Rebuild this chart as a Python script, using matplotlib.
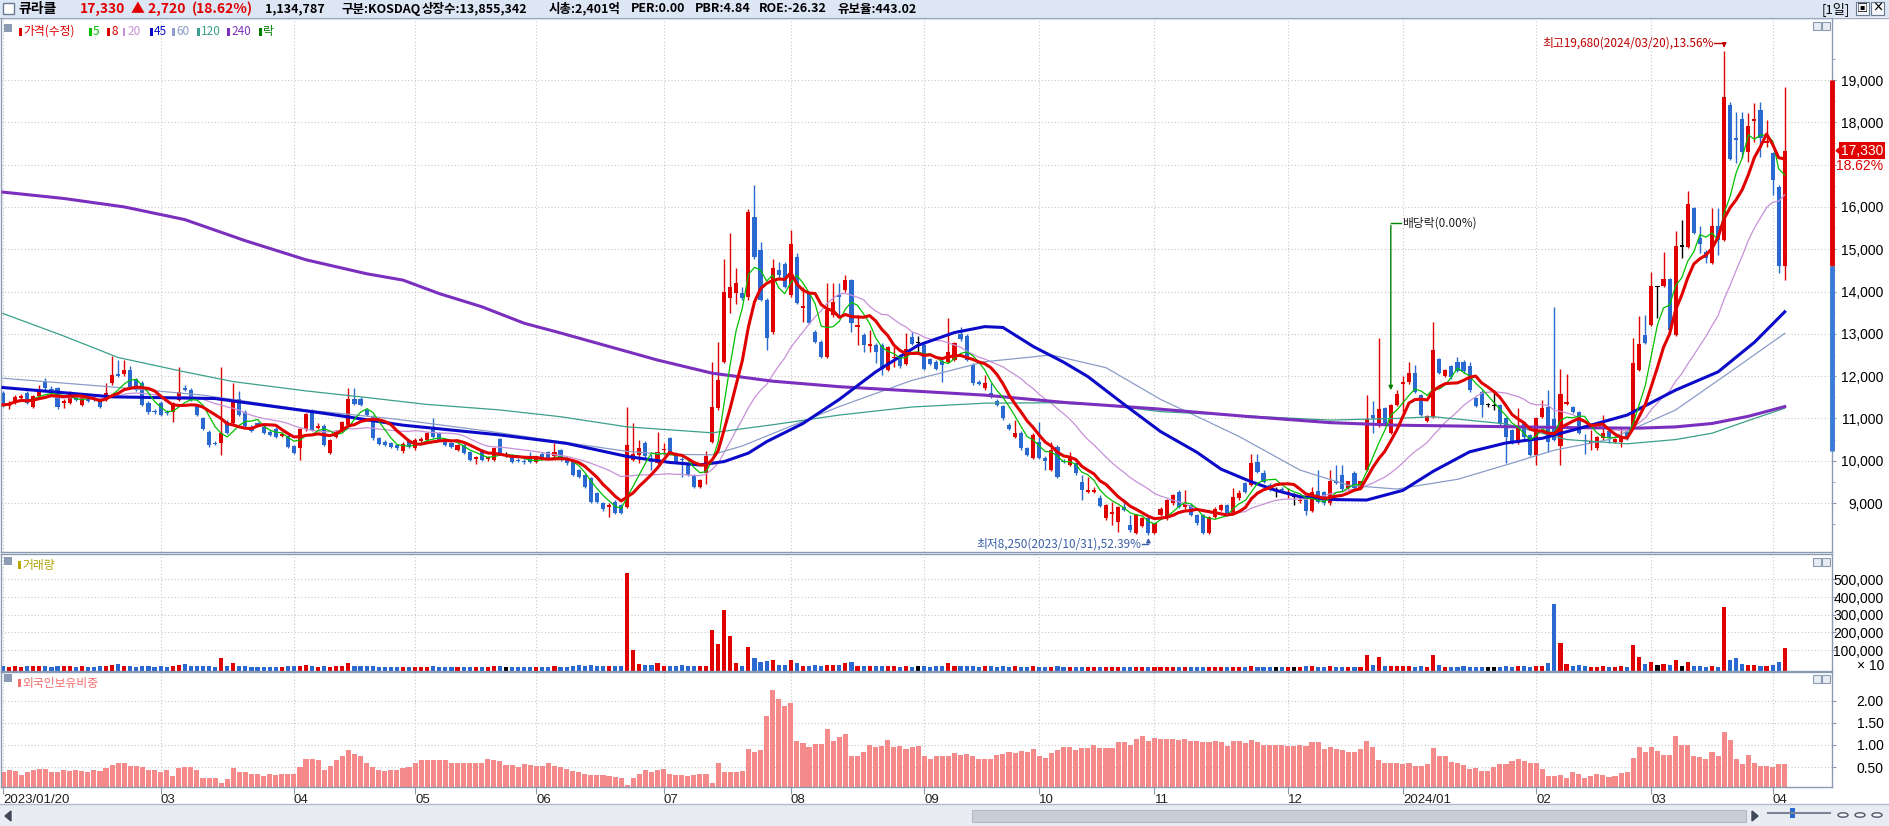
import numpy as np
import pandas as pd
import matplotlib
matplotlib.use("Agg")
import matplotlib.pyplot as plt
from matplotlib.patches import Rectangle, Polygon, Circle
from matplotlib.lines import Line2D
from matplotlib.transforms import blended_transform_factory

plt.rcParams['font.family'] = ['Noto Sans CJK KR', 'DejaVu Sans']
NARROW = ['Liberation Sans Narrow', 'Liberation Sans', 'DejaVu Sans']

# ---------------- data ----------------
stock_name = "큐라클"
header_items = [("1,134,787", 265), ("구분:KOSDAQ", 342), ("상장수:13,855,342", 422),
                ("시총:2,401억", 549), ("PER:0.00", 631), ("PBR:4.84", 695),
                ("ROE:-26.32", 759), ("유보율:443.02", 838)]
high_date = "2024/03/20"
low_date = "2023/10/31"

month_pos = [0, 26, 48, 68, 88, 109, 130, 152, 171, 190, 212, 231, 253, 272, 292]
month_labels = ["2023/01/20", "03", "04", "05", "06", "07", "08", "09", "10", "11", "12",
                "2024/01", "02", "03", "04"]

opens = [
    11590, 11290, 11360, 11480, 11590, 11280, 11530, 11870, 11700, 11710,
    11370, 11370, 11550, 11320, 11450, 11480, 11430, 11430, 11840, 12050,
    12040, 12140, 11920, 11840, 11360, 11180, 11360, 11160, 11160, 11430,
    11710, 11670, 11320, 11000, 10690, 10430, 10420, 10920, 10880, 11450,
    11160, 10800, 10880, 10800, 10690, 10760, 10590, 10580, 10350, 10290,
    10740, 11180, 10780, 10820, 10180, 10570, 10700, 10850, 11470, 11450,
    11200, 11040, 10530, 10450, 10410, 10370, 10220, 10490, 10290, 10470,
    10490, 10800, 10650, 10490, 10410, 10250, 10370, 10210, 10040, 10250,
    10040, 10020, 10510, 10140, 10140, 10020, 10000, 10060, 9980, 10170,
    10210, 10110, 10250, 10060, 9980, 9780, 9660, 9580, 9230, 8990,
    8900, 9030, 8950, 8910, 10020, 10140, 10430, 10000, 9950, 10250,
    10530, 10170, 10040, 9940, 9660, 9390, 9720, 10450, 11240, 12340,
    13840, 13960, 13970, 13880, 15750, 14980, 13800, 13050, 14520, 14650,
    13920, 14820, 13600, 13960, 13050, 12810, 12460, 13450, 13920, 14030,
    14270, 13170, 12970, 12720, 12740, 12740, 12150, 12430, 12460, 12290,
    12920, 12780, 12740, 12400, 12340, 12360, 12340, 12380, 13000, 12950,
    12260, 11850, 11710, 11600, 11420, 11290, 10840, 10570, 10660, 10290,
    10060, 10450, 10060, 9780, 10330, 9990, 9900, 9940, 9500, 9270,
    9270, 9110, 8640, 8740, 8560, 8910, 8480, 8280, 8460, 8640,
    8280, 8720, 8640, 8990, 9270, 8900, 8950, 8720, 8720, 8290,
    8680, 8840, 8950, 8760, 9110, 9470, 9430, 9980, 9700, 9430,
    9310, 9330, 9210, 9150, 9050, 9090, 8820, 9290, 9250, 8990,
    9510, 9660, 9350, 9720, 9350, 9780, 11080, 10820, 11240, 10650,
    11320, 11810, 11850, 12070, 11550, 10950, 11040, 12400, 12000, 12240,
    12340, 12340, 12240, 11480, 11630, 11320, 11290, 11320, 11000, 10730,
    10430, 10880, 10610, 10140, 11040, 11260, 10980, 10350, 11350, 11260,
    11140, 10500, 10430, 10290, 10530, 10710, 10450, 10450, 10690, 10770,
    12140, 12970, 13210, 14100, 14130, 14290, 12970, 15060, 15060, 15970,
    15260, 14940, 14670, 15550, 15220, 18410, 17640, 18070, 17310, 18040,
    18290, 17500, 17270, 16480, 14600,
]
highs = [
    11650, 11400, 11560, 11580, 11640, 11560, 11800, 11950, 11760, 11750,
    11450, 11640, 11600, 11540, 11500, 11520, 11460, 11830, 12480, 12380,
    12380, 12230, 11960, 11880, 11400, 11220, 11400, 11200, 11390, 12220,
    11800, 11710, 11350, 11030, 10720, 10470, 12220, 10960, 11830, 11650,
    11200, 10840, 10920, 10840, 10720, 10800, 10680, 10610, 10380, 10770,
    11130, 11220, 10900, 10860, 10510, 10720, 10950, 11710, 11710, 11500,
    11240, 11080, 10560, 10480, 10440, 10400, 10440, 10520, 10530, 10560,
    10680, 11000, 10680, 10520, 10440, 10400, 10400, 10240, 10110, 10280,
    10110, 10320, 10540, 10200, 10170, 10060, 10040, 10200, 10120, 10200,
    10240, 10410, 10280, 10090, 10010, 9810, 9690, 9610, 9260, 9020,
    8990, 9060, 8980, 11280, 10880, 10490, 10460, 10170, 10690, 10420,
    10560, 10200, 10080, 9970, 9690, 9560, 10220, 12340, 12810, 14780,
    15380, 14550, 14100, 15950, 16520, 15180, 13850, 14780, 14700, 14700,
    15460, 14900, 14110, 14000, 13100, 12850, 14190, 14190, 14190, 14400,
    14300, 13450, 13010, 13090, 12790, 12780, 12720, 12700, 12500, 13010,
    13050, 12950, 12780, 12440, 12380, 12400, 13370, 12810, 13170, 13000,
    12300, 11900, 12030, 11830, 11460, 11320, 10880, 10960, 10700, 10330,
    10650, 10920, 10100, 10450, 10360, 10030, 10210, 9970, 9660, 9620,
    9380, 9190, 8980, 9030, 8940, 9070, 8710, 8740, 8660, 8670,
    8530, 8900, 9100, 9220, 9310, 9310, 8980, 8750, 8750, 8700,
    8900, 8980, 8980, 9350, 9310, 9500, 10170, 10170, 9780, 9470,
    9390, 9370, 9350, 9230, 9150, 9120, 9380, 9780, 9280, 9780,
    9900, 9900, 9530, 9750, 9530, 11550, 11400, 12890, 11280, 11350,
    11670, 12000, 12340, 12260, 11580, 11080, 13290, 12430, 12170, 12270,
    12460, 12380, 12340, 11510, 11660, 11360, 11670, 11350, 11040, 10760,
    11240, 10920, 10640, 11040, 11440, 11670, 13640, 12160, 12050, 11300,
    11170, 10620, 10720, 10590, 11080, 10740, 10540, 10800, 10720, 12890,
    13410, 13450, 14470, 14120, 14940, 14320, 15420, 15690, 16380, 16000,
    15540, 14970, 15970, 15970, 19680, 18490, 18250, 18250, 18210, 18450,
    18490, 18060, 17300, 16510, 18840,
]
lows = [
    11280, 11220, 11330, 11440, 11340, 11250, 11500, 11680, 11620, 11230,
    11250, 11340, 11400, 11290, 11380, 11400, 11240, 11400, 11800, 11990,
    12000, 11720, 11640, 11290, 11100, 11100, 11050, 11090, 10920, 11400,
    11640, 11400, 11050, 10730, 10330, 10360, 10140, 10620, 10850, 11050,
    10790, 10680, 10810, 10620, 10580, 10540, 10560, 10300, 10150, 10020,
    10710, 10700, 10750, 10340, 10150, 10540, 10670, 10820, 11310, 11290,
    11050, 10500, 10370, 10340, 10300, 10260, 10190, 10300, 10260, 10440,
    10460, 10540, 10460, 10340, 10300, 10220, 10160, 9990, 9930, 9990,
    10000, 9990, 10150, 10080, 9950, 9960, 9930, 9940, 9950, 10030,
    10030, 10080, 9990, 9910, 9630, 9580, 9360, 9000, 9000, 8820,
    8680, 8740, 8730, 8880, 9990, 9940, 10060, 9780, 9920, 10140,
    10140, 9950, 9620, 9630, 9360, 9360, 9460, 10420, 11200, 12300,
    13500, 13700, 13800, 13800, 14780, 13780, 12620, 13000, 14300, 14080,
    13880, 13700, 13270, 13230, 12780, 12420, 12420, 13400, 13400, 13980,
    13050, 12740, 12580, 12580, 12300, 12030, 12120, 12220, 12200, 12260,
    12740, 12560, 12150, 12260, 12150, 11870, 12300, 12350, 12840, 12350,
    11800, 11780, 11680, 11480, 11290, 10970, 10730, 10540, 10260, 10100,
    10030, 10030, 9780, 9750, 9590, 9940, 9870, 9670, 9070, 9240,
    9230, 8900, 8610, 8480, 8320, 8800, 8320, 8270, 8430, 8250,
    8260, 8690, 8610, 8960, 8890, 8870, 8690, 8490, 8260, 8260,
    8650, 8810, 8690, 8730, 9080, 9240, 9400, 9710, 9470, 9280,
    9150, 9280, 9110, 8950, 9000, 8720, 8790, 9010, 8960, 8960,
    9450, 9290, 9320, 9320, 9320, 9750, 10650, 10790, 10840, 10620,
    11290, 11160, 11820, 11600, 11050, 10920, 11010, 12050, 11970, 11940,
    12100, 12080, 11630, 11260, 11040, 11280, 11200, 10840, 9940, 10400,
    10400, 10520, 10100, 9900, 11010, 10210, 10460, 9900, 11320, 11130,
    10620, 10170, 10250, 10260, 10500, 10410, 10420, 10330, 10500, 10740,
    12110, 12750, 13180, 13370, 14100, 13060, 12940, 14790, 15030, 15360,
    14910, 14670, 14640, 14860, 15190, 17100, 17030, 17150, 17070, 17540,
    17190, 17420, 16280, 14430, 14270,
]
closes = [
    11320, 11350, 11510, 11520, 11370, 11530, 11670, 11710, 11660, 11260,
    11410, 11590, 11430, 11510, 11420, 11440, 11280, 11610, 12030, 12010,
    12140, 11750, 11670, 11320, 11140, 11140, 11080, 11120, 11360, 11630,
    11670, 11430, 11080, 10760, 10360, 10390, 10650, 10650, 11430, 11080,
    10820, 10710, 10840, 10650, 10610, 10570, 10620, 10330, 10180, 10740,
    11100, 10730, 10820, 10370, 10480, 10690, 10920, 11470, 11340, 11320,
    11080, 10530, 10400, 10370, 10330, 10290, 10400, 10330, 10500, 10510,
    10650, 10570, 10490, 10370, 10330, 10370, 10190, 10020, 10080, 10020,
    10080, 10290, 10180, 10140, 9980, 9990, 9970, 9980, 10100, 10060,
    10060, 10210, 10020, 9940, 9660, 9610, 9390, 9030, 9030, 8850,
    8950, 8770, 8760, 10370, 10170, 10290, 10100, 9980, 10210, 10280,
    10170, 9980, 10010, 9660, 9390, 9540, 10100, 11280, 11910, 13990,
    14110, 14190, 13840, 15890, 14820, 13800, 12890, 14550, 14390, 14110,
    15120, 13740, 13650, 13260, 12810, 12460, 13560, 13760, 13880, 14270,
    13250, 13210, 12740, 12760, 12580, 12160, 12700, 12460, 12240, 12630,
    12760, 12780, 12180, 12290, 12180, 12260, 12580, 12780, 12870, 12380,
    11830, 11810, 11840, 11510, 11320, 11000, 10760, 10660, 10290, 10130,
    10600, 10060, 10000, 10250, 9620, 9960, 10060, 9700, 9310, 9310,
    9310, 8930, 8950, 8780, 8910, 8840, 8360, 8720, 8640, 8280,
    8520, 8870, 9070, 9190, 8910, 9010, 8720, 8520, 8280, 8680,
    8870, 8950, 8720, 9150, 9230, 9270, 9940, 9740, 9500, 9310,
    9310, 9310, 9250, 9150, 9080, 8800, 9250, 9030, 8990, 9510,
    9480, 9320, 9510, 9350, 9510, 10980, 11000, 11220, 10870, 11320,
    11580, 11870, 12080, 11630, 11080, 11060, 12620, 12080, 12150, 11970,
    12130, 12110, 11660, 11290, 11320, 11320, 11290, 10870, 10550, 10430,
    10820, 10550, 10140, 11000, 11240, 10450, 10490, 11580, 11390, 11160,
    10650, 10470, 10470, 10550, 10660, 10550, 10510, 10550, 10530, 12300,
    12760, 12780, 14130, 14100, 14290, 13090, 15080, 15060, 16070, 15390,
    15120, 14790, 15550, 15220, 18590, 17130, 17580, 17310, 17910, 18070,
    17620, 17570, 16640, 14610, 17330,
]
# volume in units of 10 shares (the pane says "x 10")
volumes = [
    8000, 6000, 7000, 6000, 8000, 7000, 9000, 8000, 6000, 9000,
    7000, 8000, 6000, 7000, 6000, 6000, 7000, 9000, 15000, 22000,
    9000, 8000, 6000, 9000, 7000, 6000, 7000, 6000, 9000, 14000,
    20000, 8000, 7000, 8000, 9000, 6000, 55000, 12000, 24000, 9000,
    8000, 6000, 5000, 6000, 5000, 6000, 5000, 7000, 8000, 12000,
    18000, 10000, 6000, 9000, 6000, 7000, 9000, 25000, 10000, 8000,
    10000, 9000, 6000, 5000, 5000, 5000, 6000, 5000, 6000, 5000,
    6000, 8000, 5000, 5000, 5000, 5000, 5000, 6000, 5000, 6000,
    5000, 7000, 12000, 6000, 5000, 5000, 5000, 5000, 6000, 5000,
    5000, 7000, 6000, 6000, 12000, 14000, 10000, 14000, 9000, 8000,
    7000, 8000, 8000, 537000, 100000, 20000, 16000, 16000, 25000, 10000,
    8000, 12000, 14000, 8000, 9000, 8000, 10000, 213000, 135000, 326000,
    180000, 28000, 12000, 115000, 55000, 35000, 40000, 45000, 15000, 18000,
    45000, 28000, 12000, 10000, 15000, 10000, 16000, 16000, 18000, 25000,
    35000, 12000, 8000, 8000, 7000, 8000, 8000, 7000, 6000, 10000,
    6000, 7000, 12000, 6000, 7000, 10000, 25000, 9000, 12000, 12000,
    10000, 6000, 7000, 7000, 6000, 9000, 6000, 7000, 6000, 5000,
    7000, 6000, 5000, 6000, 7000, 5000, 5000, 6000, 6000, 5000,
    5000, 6000, 5000, 6000, 5000, 5000, 6000, 5000, 6000, 5000,
    6000, 5000, 6000, 5000, 6000, 5000, 5000, 6000, 5000, 5000,
    6000, 5000, 6000, 6000, 5000, 6000, 9000, 6000, 5000, 6000,
    6000, 5000, 6000, 6000, 5000, 7000, 8000, 6000, 5000, 12000,
    6000, 6000, 5000, 6000, 5000, 70000, 15000, 60000, 10000, 10000,
    10000, 10000, 10000, 6000, 8000, 6000, 70000, 14000, 6000, 5000,
    5000, 8000, 6000, 5000, 5000, 5000, 5000, 6000, 8000, 6000,
    9000, 7000, 6000, 10000, 10000, 25000, 360000, 138000, 20000, 12000,
    14000, 12000, 6000, 5000, 12000, 6000, 6000, 8000, 5000, 130000,
    58000, 20000, 35000, 14000, 20000, 15000, 45000, 10000, 30000, 10000,
    8000, 6000, 10000, 6000, 343000, 45000, 55000, 20000, 14000, 14000,
    12000, 10000, 15000, 33000, 113479,
]
# foreign ownership ratio (%)
foreign = [
    .38, .44, .42, .33, .38, .44, .46, .45, .40, .40,
    .44, .42, .44, .42, .38, .44, .42, .48, .55, .60,
    .60, .53, .53, .50, .44, .44, .38, .44, .30, .48,
    .51, .50, .44, .25, .25, .25, .15, .23, .48, .40,
    .38, .35, .35, .29, .35, .33, .35, .35, .35, .50,
    .68, .68, .65, .44, .53, .65, .75, .89, .80, .74,
    .59, .51, .44, .42, .44, .44, .48, .50, .59, .65,
    .67, .67, .65, .65, .60, .59, .59, .60, .59, .59,
    .68, .65, .63, .55, .55, .51, .57, .55, .53, .53,
    .59, .53, .50, .45, .42, .38, .35, .33, .33, .33,
    .30, .27, .25, .10, .25, .35, .44, .40, .44, .45,
    .35, .33, .33, .29, .33, .35, .35, .14, .60, .40,
    .38, .40, .42, .90, .85, .88, 1.65, 2.24, 2.05, 1.88,
    1.94, 1.08, 1.04, .96, 1.03, 1.03, 1.36, 1.10, 1.19, 1.25,
    .75, .75, .85, 1.00, .96, .98, 1.11, .96, .98, .90,
    .96, .98, .74, .68, .74, .74, .75, .81, .78, .80,
    .74, .68, .68, .68, .78, .80, .85, .83, .87, .85,
    .90, .74, .70, .83, .89, .95, .96, .89, .93, .93,
    1.00, .93, .93, .93, 1.07, 1.07, 1.00, 1.14, 1.20, 1.10,
    1.15, 1.14, 1.14, 1.13, 1.11, 1.13, 1.10, 1.08, 1.06, 1.07,
    1.08, 1.06, .98, 1.09, 1.09, 1.04, 1.11, 1.06, 1.00, 1.00,
    1.00, 1.00, .98, .98, 1.00, .98, 1.07, 1.07, .90, .95,
    .90, .89, .85, .85, .90, 1.10, .96, .65, .60, .60,
    .59, .57, .59, .53, .53, .57, .93, .75, .75, .62,
    .60, .55, .45, .48, .42, .42, .51, .57, .57, .63,
    .68, .63, .60, .59, .45, .30, .30, .33, .25, .40,
    .35, .25, .30, .35, .33, .27, .30, .36, .38, .70,
    .95, .85, .96, .87, .78, .78, 1.20, 1.00, 1.00, .75,
    .72, .68, .85, .75, 1.30, 1.11, .68, .57, .78, .60,
    .53, .53, .50, .57, .57,
]
# long moving averages at a few days each
ma45_idx = [0, 18, 35, 53, 66, 82, 93, 103, 110, 115, 119, 123, 126, 132, 138, 144, 151, 157,
            162, 165, 170, 175, 179, 185, 191, 197, 201, 206, 210, 214, 220, 225, 231, 236,
            242, 248, 254, 261, 268, 276, 283, 289, 294]
ma45_val = [11730, 11510, 11470, 11120, 10840, 10610, 10410, 10100, 9960, 9900, 9980, 10180,
            10450, 10880, 11450, 12100, 12730, 13030, 13170, 13150, 12700, 12330, 11990, 11330,
            10690, 10200, 9800, 9500, 9300, 9150, 9080, 9070, 9300, 9750, 10210, 10420, 10530,
            10800, 11080, 11670, 12100, 12800, 13520]
ma60_idx = [0, 20, 33, 50, 65, 80, 92, 103, 110, 117, 122, 128, 138, 150, 162, 173, 182, 191,
            198, 204, 214, 222, 230, 240, 248, 256, 265, 276, 285, 294]
ma60_val = [11950, 11720, 11550, 11200, 10980, 10700, 10450, 10220, 10150, 10140, 10350, 10700,
            11280, 11900, 12340, 12500, 12200, 11450, 10980, 10570, 9780, 9420, 9330, 9560,
            9900, 10250, 10500, 11200, 12100, 13010]
ma120_idx = [0, 10, 19, 30, 38, 50, 59, 70, 82, 92, 103, 117, 127, 138, 150, 162, 173, 183, 191,
             205, 219, 230, 236, 248, 258, 268, 276, 282, 288, 294]
ma120_val = [13480, 12950, 12440, 12100, 11870, 11650, 11510, 11330, 11200, 11040, 10800, 10660,
             10850, 11080, 11270, 11360, 11370, 11300, 11160, 11060, 10960, 11000, 11040, 10870,
             10500, 10400, 10500, 10650, 10950, 11240]
ma240_idx = [0, 10, 20, 30, 40, 50, 60, 66, 72, 79, 86, 92, 100, 108, 117, 127, 138, 150, 162,
             175, 190, 205, 219, 230, 240, 250, 260, 270, 276, 282, 288, 294]
ma240_val = [16350, 16200, 16000, 15700, 15200, 14750, 14420, 14270, 13950, 13640, 13250, 13020,
             12700, 12380, 12070, 11880, 11750, 11650, 11550, 11380, 11230, 11050, 10900, 10840,
             10820, 10800, 10780, 10770, 10800, 10880, 11050, 11280]

# ---------------- colours ----------------
RED = '#e00000'
BLUE = '#2a6ad0'
C5, C8, C20, C45, C60, C120, C240 = '#00c000', '#e00000', '#c890d8', '#0a0ac8', '#8a9cc8', '#3aa08a', '#7b2fbe'
FRAME = '#8a9ab2'
GRID = '#c8c8c8'

W, H = 1889, 826
fig = plt.figure(figsize=(W / 100, H / 100), dpi=100)
fig.patch.set_facecolor('white')


def fx(px):
    return px / W


def fy(py):
    return 1 - py / H


def pane(top, bottom):
    return fig.add_axes([fx(1), fy(bottom), fx(1832) - fx(1), fy(top) - fy(bottom)])


ax_p = pane(18, 552)
ax_v = pane(554, 671)
ax_f = pane(672, 787)

x = np.arange(len(closes))
o = np.array(opens)
c = np.array(closes)
h = np.array(highs)
l = np.array(lows)
col = np.where(c > o, RED, np.where(c < o, BLUE, 'black'))

for ax in (ax_p, ax_v, ax_f):
    ax.set_xlim(-0.33, 301.8)
    for s in ax.spines.values():
        s.set_color(FRAME)
        s.set_linewidth(1)
    ax.yaxis.tick_right()
    ax.set_xticks(month_pos)
    ax.grid(True, color=GRID, linestyle=(0, (1, 2)), linewidth=0.8)
    ax.set_axisbelow(True)
    ax.tick_params(axis='x', length=0, labelbottom=False)
    ax.tick_params(axis='y', which='both', direction='out', length=3, color=FRAME, pad=34)

# ---- price pane ----
ax_p.vlines(x, l, h, colors=col, linewidth=1, zorder=2)
ax_p.bar(x, np.maximum(np.abs(c - o), 28), bottom=np.minimum(o, c), width=0.68,
         color=col, linewidth=0, zorder=2)

s = pd.Series(closes)
ax_p.plot(x, s.rolling(20, min_periods=1).mean(), color=C20, lw=0.9, zorder=3)
ax_p.plot(ma60_idx, ma60_val, color=C60, lw=0.9, zorder=3)
ax_p.plot(ma120_idx, ma120_val, color=C120, lw=0.9, zorder=3)
ax_p.plot(ma240_idx, ma240_val, color=C240, lw=2.2, zorder=3)
ax_p.plot(ma45_idx, ma45_val, color=C45, lw=2.2, zorder=3)
ax_p.plot(x, s.rolling(5, min_periods=1).mean(), color=C5, lw=0.9, zorder=3)
ax_p.plot(x, s.rolling(8, min_periods=1).mean(), color=C8, lw=2.2, zorder=3)

ax_p.set_ylim(7842, 20466)
pticks = list(range(9000, 19001, 1000))
plabels = ['' if t == 17000 else f"{t:,}" for t in pticks]
ax_p.set_yticks(pticks, labels=plabels, ha='right', fontsize=10, family=NARROW)
ax_p.set_yticks(np.arange(8500, 20001, 1000), minor=True)
ax_p.tick_params(axis='y', which='minor', length=2)

# highest / lowest annotations
last = c[-1]
prev = c[-2]
hi_i = int(np.argmax(h))
lo_i = int(np.argmin(l))
hi_txt = f"최고{h[hi_i]:,}({high_date}),{(h[hi_i] / last - 1) * 100:.2f}%"
lo_txt = f"최저{l[lo_i]:,}({low_date}),{(1 - l[lo_i] / last) * 100:.2f}%"
ax_p.text(hi_i - 1.8, 19875, hi_txt, color='#c00000', ha='right', va='center', fontsize=8.5)
ax_p.plot([hi_i - 1.6, hi_i], [19875, 19875], color='#c00000', lw=1)
ax_p.annotate('', xy=(hi_i, h[hi_i] + 20), xytext=(hi_i, 19880),
              arrowprops=dict(arrowstyle='-|>', color='#c00000', lw=1, mutation_scale=6))
ax_p.text(lo_i - 1.2, 8030, lo_txt, color='#3a5ea8', ha='right', va='center', fontsize=8.5)
ax_p.plot([lo_i - 1.0, lo_i], [8030, 8030], color='#3a5ea8', lw=1)
ax_p.annotate('', xy=(lo_i, l[lo_i] - 10), xytext=(lo_i, 8025),
              arrowprops=dict(arrowstyle='-|>', color='#3a5ea8', lw=1, mutation_scale=6))

# ex-dividend marker
ex_i = 229
ax_p.plot([ex_i + 1.7, ex_i], [15620, 15620], color='#008000', lw=1)
ax_p.annotate('', xy=(ex_i, h[ex_i] + 250), xytext=(ex_i, 15630),
              arrowprops=dict(arrowstyle='-|>', color='#008000', lw=1, mutation_scale=6))
ax_p.text(ex_i + 1.9, 15620, "배당락(0.00%)", color='#202020', ha='left', va='center', fontsize=8.5)

# right side: limit range bar, current price box
tr = blended_transform_factory(ax_p.transAxes, ax_p.transData)
ax_p.plot([1.0, 1.0], [prev, prev * 1.3], transform=tr, color=RED, lw=3.5,
          solid_capstyle='butt', clip_on=False, zorder=5)
ax_p.plot([1.0, 1.0], [prev * 0.7, prev], transform=tr, color='#3a7ad8', lw=3.5,
          solid_capstyle='butt', clip_on=False, zorder=5)
ax_p.add_patch(Polygon([(1.0022, last), (1.0064, last + 150), (1.0064, last - 150)],
                       closed=True, transform=tr, color=RED, clip_on=False))
ax_p.text(1.0279, last, f"{last:,}", transform=tr, ha='right', va='center', color='white',
          fontsize=10, family=NARROW, clip_on=False,
          bbox=dict(boxstyle='square,pad=0.12', fc=RED, ec='none'))
ax_p.text(1.0279, last - 360, f"{(last / prev - 1) * 100:.2f}%", transform=tr, ha='right',
          va='center', color=RED, fontsize=10, family=NARROW, clip_on=False)

# ---- volume pane ----
vbot = -18700
ax_v.set_ylim(vbot, 643500)
ax_v.bar(x, np.array(volumes) - vbot, bottom=vbot, width=0.68, color=col, linewidth=0)
vticks = [100000, 200000, 300000, 400000, 500000]
ax_v.set_yticks(vticks, labels=[f"{t:,}" for t in vticks], ha='right', fontsize=10, family=NARROW)
ax_v.text(1.0284, 12000, "× 10", transform=blended_transform_factory(ax_v.transAxes, ax_v.transData),
          ha='right', va='center', fontsize=10, family=NARROW, clip_on=False)

# ---- foreign ownership pane ----
ax_f.set_ylim(0.05, 2.65)
ax_f.bar(x, foreign, width=0.84, color='#f58a8a', linewidth=0)
fticks = [0.5, 1.0, 1.5, 2.0]
ax_f.set_yticks(fticks, labels=[f"{t:.2f}" for t in fticks], ha='right', fontsize=10, family=NARROW)
ax_f.set_xticks(month_pos, labels=month_labels, ha='left', fontsize=9.5, family=NARROW,
                color='#202020')
ax_f.tick_params(axis='x', length=5, color=FRAME, labelbottom=True, pad=0)

# ---------------- chrome: header, legends, scroll bar ----------------
fig.patches.append(Rectangle((0, fy(17)), 1, 17 / H, transform=fig.transFigure,
                             fc='#dde6f5', ec='none'))
fig.add_artist(Line2D([0, 1], [fy(17.5), fy(17.5)], color='#9aaac4', lw=1))
fig.patches.append(Rectangle((fx(3), fy(14)), 11 / W, 11 / H, transform=fig.transFigure,
                             fc='white', ec='#6a7a92', lw=1))

hy = fy(9)
fig.text(fx(18), hy, stock_name, fontsize=10, weight='bold', va='center')
fig.text(fx(80), hy, f"{last:,}", fontsize=10, weight='bold', va='center', color=RED)
fig.text(fx(131), hy, f"▲ {last - prev:,}", fontsize=10, weight='bold', va='center', color=RED)
fig.text(fx(192), hy, f"({(last / prev - 1) * 100:.2f}%)", fontsize=10, weight='bold',
         va='center', color=RED)
for txt, tx in header_items:
    fig.text(fx(tx), hy, txt, fontsize=9.0, weight='bold', va='center')
fig.text(fx(1822), hy, "[1일]", fontsize=9.5, va='center')
for bx, sym in ((1856, "▣"), (1871, "×")):
    fig.patches.append(Rectangle((fx(bx), fy(15)), 13 / W, 13 / H, transform=fig.transFigure,
                                 fc='#f4f6fa', ec='#6a7a92', lw=0.8))
    fig.text(fx(bx + 6.5), fy(8.5), sym, fontsize=8, ha='center', va='center', weight='bold')

# pane icons (top-left square, top-right buttons)
for top in (24, 557, 674):
    fig.patches.append(Rectangle((fx(4), fy(top + 8)), 8 / W, 8 / H, transform=fig.transFigure,
                                 fc='#8c9cb4', ec='none'))
for top in (22, 558, 675):
    for bx in (1813, 1822):
        fig.patches.append(Rectangle((fx(bx), fy(top + 8)), 8 / W, 8 / H,
                                     transform=fig.transFigure, fc='#e8ecf2', ec='#8c9cb4', lw=0.8))

legend_items = [("가격(수정)", RED, 19), ("5", C5, 89), ("8", C8, 107), ("20", C20, 123),
                ("45", C45, 150), ("60", C60, 172), ("120", C120, 197), ("240", C240, 227),
                ("락", '#008000', 259)]
for label, color, lx in legend_items:
    fig.patches.append(Rectangle((fx(lx), fy(36)), 2.5 / W, 8 / H, transform=fig.transFigure,
                                 fc=color, ec='none'))
    fig.text(fx(lx + 4), fy(31.5), label, color=color, fontsize=8.5, va='center')

fig.patches.append(Rectangle((fx(18), fy(569)), 2.5 / W, 8 / H, transform=fig.transFigure,
                             fc='#b8a800', ec='none'))
fig.text(fx(22), fy(565), "거래량", color='#b0a000', fontsize=8.5, va='center')
fig.patches.append(Rectangle((fx(18), fy(687)), 2.5 / W, 8 / H, transform=fig.transFigure,
                             fc='#f07070', ec='none'))
fig.text(fx(22), fy(683), "외국인보유비중", color='#f07070', fontsize=8.5, va='center')

# scroll bar
fig.patches.append(Rectangle((0, 0), 1, 22 / H, transform=fig.transFigure, fc='#e9edf3', ec='none'))
fig.add_artist(Line2D([0, 1], [fy(804), fy(804)], color='#b0bccc', lw=1))
fig.patches.append(Rectangle((fx(972), fy(822)), 774 / W, 12 / H, transform=fig.transFigure,
                             fc='#c8cdd6', ec='#b4bac4', lw=0.8))
fig.patches.append(Polygon([(fx(5), fy(816)), (fx(11), fy(811)), (fx(11), fy(821))],
                           closed=True, transform=fig.transFigure, color='#404858'))
fig.patches.append(Polygon([(fx(1758), fy(816)), (fx(1752), fy(811)), (fx(1752), fy(821))],
                           closed=True, transform=fig.transFigure, color='#404858'))
fig.add_artist(Line2D([fx(1768), fx(1830)], [fy(813), fy(813)], color='#7a8496', lw=1.5))
fig.patches.append(Rectangle((fx(1790), fy(818)), 5 / W, 10 / H, transform=fig.transFigure,
                             fc='#2a6ad0', ec='none'))
for mx in (1843, 1860, 1877):
    fig.patches.append(Circle((fx(mx), fy(815)), 5 / W, transform=fig.transFigure,
                              fc='#f4f6fa', ec='#505868', lw=1))

fig.savefig('out.png', dpi=100, facecolor='white')
